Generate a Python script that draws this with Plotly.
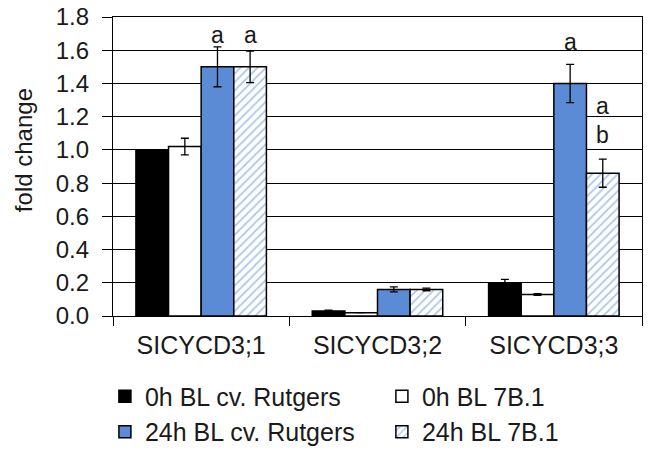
import plotly.graph_objects as go

categories = ["SlCYCD3;1", "SlCYCD3;2", "SlCYCD3;3"]
tick_labels = ["SICYCD3;1", "SICYCD3;2", "SICYCD3;3"]
series_names = ["0h BL cv. Rutgers", "0h BL 7B.1", "24h BL cv. Rutgers", "24h BL 7B.1"]
rutgers_0h = [1.00, 0.03, 0.20]
rutgers_0h_err = [0.0, 0.005, 0.02]
b71_0h = [1.02, 0.02, 0.13]
b71_0h_err = [0.05, 0.0, 0.005]
rutgers_24h = [1.50, 0.16, 1.40]
rutgers_24h_err = [0.12, 0.015, 0.115]
b71_24h = [1.50, 0.16, 0.86]
b71_24h_err = [0.095, 0.008, 0.085]

letters = [  # (category index, bar index, y, text)
    (0, 2, 1.69, "a"),
    (0, 3, 1.69, "a"),
    (2, 2, 1.65, "a"),
    (2, 3, 1.265, "a"),
    (2, 3, 1.09, "b"),
]

blue = "#5a8bd4"
font = "Liberation Sans, Arial, sans-serif"
txt = "#1a1a1a"

fig = go.Figure()
err_style = dict(type="data", color="black", thickness=1.3, width=4)

fig.add_trace(go.Bar(x=tick_labels, y=rutgers_0h, name=series_names[0],
                     marker=dict(color="black", line=dict(color="black", width=1.5)),
                     error_y=dict(array=rutgers_0h_err, **err_style)))
fig.add_trace(go.Bar(x=tick_labels, y=b71_0h, name=series_names[1],
                     marker=dict(color="white", line=dict(color="black", width=1.5)),
                     error_y=dict(array=b71_0h_err, **err_style)))
fig.add_trace(go.Bar(x=tick_labels, y=rutgers_24h, name=series_names[2],
                     marker=dict(color=blue, line=dict(color="black", width=1.5)),
                     error_y=dict(array=rutgers_24h_err, **err_style)))
fig.add_trace(go.Bar(x=tick_labels, y=b71_24h, name=series_names[3],
                     marker=dict(color="white", line=dict(color="black", width=1.5),
                                 pattern=dict(shape="/", fgcolor=blue, bgcolor="white",
                                              size=6, solidity=0.3)),
                     error_y=dict(array=b71_24h_err, **err_style)))

bargap = 0.26
bw = (1 - bargap) / 4
for ci, bi, yv, t in letters:
    xoff = -(1 - bargap) / 2 + bw * (bi + 0.5)
    fig.add_annotation(x=ci + xoff, y=yv, text=t, showarrow=False,
                       font=dict(size=23, color=txt, family=font),
                       xref="x", yref="y", yanchor="middle")

# y-axis title
fig.add_annotation(x=-0.170, y=0.555, xref="paper", yref="paper", text="fold change",
                   textangle=-90, showarrow=False, xanchor="center", yanchor="middle",
                   font=dict(size=24, color=txt, family=font))

fig.update_layout(
    width=648, height=451,
    margin=dict(l=113, r=6, t=17, b=135, autoexpand=False),
    paper_bgcolor="white", plot_bgcolor="white",
    barmode="group", bargap=bargap, bargroupgap=0,
    font=dict(family=font, size=24, color=txt),
    showlegend=True,
    legend=dict(orientation="h", x=-0.0153, xanchor="left", y=-0.192, yanchor="top",
                entrywidth=232, entrywidthmode="pixels",
                font=dict(size=25, color=txt, family=font),
                traceorder="normal", itemwidth=30, tracegroupgap=0),
    xaxis=dict(showline=True, linecolor="black", linewidth=1.3, mirror=True,
               ticks="outside", tickson="boundaries", ticklen=9, tickcolor="black",
               ticklabelstandoff=7,
               tickfont=dict(size=25, color=txt, family=font), showgrid=False),
    yaxis=dict(range=[0, 1.8], dtick=0.2, tickformat=".1f",
               showline=True, linecolor="black", linewidth=1.3, mirror=True,
               ticks="outside", ticklen=10, tickcolor="black",
               ticklabelstandoff=8,
               showgrid=True, gridcolor="black", gridwidth=1.4,
               tickfont=dict(size=24, color=txt, family=font),
               zeroline=False),
)

fig.write_html("out.html", config={"displayModeBar": False},
               post_script="document.body.style.margin='0px';")
